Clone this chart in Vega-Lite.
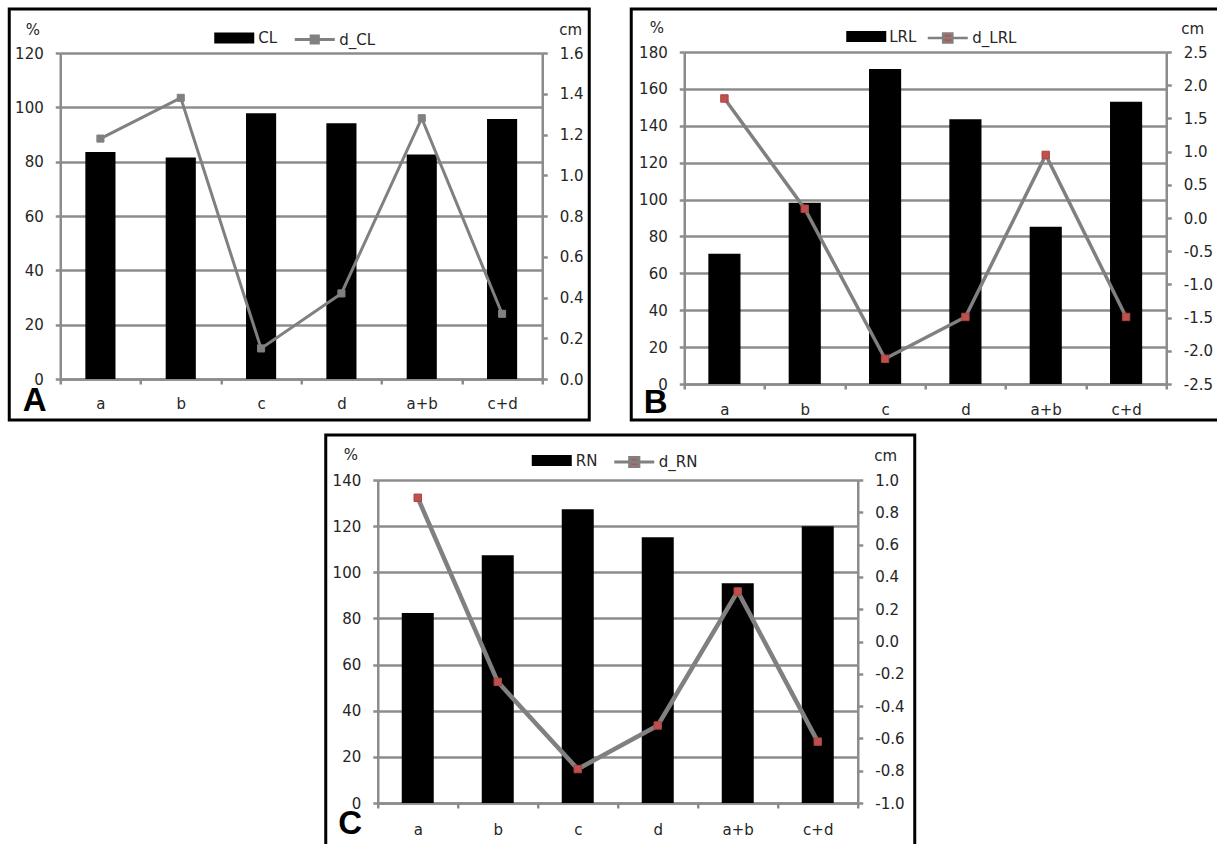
{
  "$schema": "https://vega.github.io/schema/vega-lite/v6.json",
  "padding": {"left": 7, "top": 7, "right": 0, "bottom": 0},
  "autosize": {"type": "pad"},
  "datasets": {
    "A": [
      {"group": "a", "pct": 83.6, "cm": 1.18},
      {"group": "b", "pct": 81.5, "cm": 1.38},
      {"group": "c", "pct": 97.8, "cm": 0.15},
      {"group": "d", "pct": 94.1, "cm": 0.42},
      {"group": "a+b", "pct": 82.6, "cm": 1.28},
      {"group": "c+d", "pct": 95.7, "cm": 0.32}
    ],
    "B": [
      {"group": "a", "pct": 70.6, "cm": 1.8},
      {"group": "b", "pct": 98.3, "cm": 0.14},
      {"group": "c", "pct": 170.8, "cm": -2.12},
      {"group": "d", "pct": 143.5, "cm": -1.49},
      {"group": "a+b", "pct": 85.3, "cm": 0.95},
      {"group": "c+d", "pct": 153, "cm": -1.49}
    ],
    "C": [
      {"group": "a", "pct": 82.3, "cm": 0.89},
      {"group": "b", "pct": 107.4, "cm": -0.25},
      {"group": "c", "pct": 127.3, "cm": -0.79},
      {"group": "d", "pct": 115.2, "cm": -0.52},
      {"group": "a+b", "pct": 95.2, "cm": 0.31},
      {"group": "c+d", "pct": 119.9, "cm": -0.62}
    ]
  },
  "spacing": 11,
  "center": true,
  "resolve": {
    "scale": {"fill": "independent", "stroke": "independent"},
    "legend": {"fill": "independent", "stroke": "independent"}
  },
  "vconcat": [
    {
      "spacing": 38,
      "resolve": {
        "scale": {"fill": "independent", "stroke": "independent"},
        "legend": {"fill": "independent", "stroke": "independent"}
      },
      "hconcat": [
        {
          "width": 580,
          "height": 411,
          "data": {"name": "A"},
          "encoding": {
            "x": {
              "field": "group", "type": "nominal", "sort": null,
              "scale": {"range": [51, 533], "paddingInner": 0, "paddingOuter": 0},
              "axis": {
                "orient": "bottom", "offset": -41, "tickBand": "extent", "tickSize": 5,
                "labelAngle": 0, "labelPadding": 12,
                "title": "A", "titleX": 13, "titleY": 31, "titleAlign": "left", "titleBaseline": "alphabetic",
                "titleFont": "Liberation Sans", "titleFontSize": 33, "titleFontWeight": "bold", "titleColor": "#000000"
              }
            }
          },
          "layer": [
            {
              "mark": {"type": "point", "opacity": 0},
              "encoding": {
                "y": {
                  "field": "pct", "type": "quantitative",
                  "scale": {"domain": [0, 120], "range": [370, 44]},
                  "axis": {"orient": "left", "offset": -51, "values": [0, 20, 40, 60, 80, 100, 120], "tickSize": -482, "domain": false, "labels": false, "title": null}
                }
              }
            },
            {
              "mark": {"type": "bar", "width": {"band": 0.375}},
              "encoding": {
                "y": {
                  "field": "pct", "type": "quantitative",
                  "scale": {"domain": [0, 120], "range": [370, 44]},
                  "axis": {
                    "orient": "left", "offset": -51, "values": [0, 20, 40, 60, 80, 100, 120], "tickSize": 5, "labelPadding": 12,
                    "title": "%", "titleAngle": 0, "titleX": -28, "titleY": 20, "titleAlign": "center", "titleBaseline": "middle"
                  }
                },
                "fill": {
                  "datum": "CL", "scale": {"range": ["#000000"]},
                  "legend": {"orient": "none", "legendX": 205, "legendY": 9, "title": null, "padding": 0, "symbolType": "M-1,-0.275H1V0.275H-1Z", "symbolSize": 1600, "symbolStrokeWidth": 0, "labelOffset": 4}
                }
              }
            },
            {
              "mark": {"type": "line", "strokeWidth": 3},
              "encoding": {
                "y": {
                  "field": "cm", "type": "quantitative",
                  "scale": {"domain": [0, 1.6], "range": [370, 44]},
                  "axis": {
                    "orient": "right", "offset": -47, "values": [0, 0.2, 0.4, 0.6, 0.8, 1, 1.2, 1.4, 1.6], "format": ".1f", "tickSize": 5, "labelPadding": 12,
                    "title": "cm", "titleAngle": 0, "titleX": 28, "titleY": 20, "titleAlign": "center", "titleBaseline": "middle"
                  }
                },
                "stroke": {
                  "datum": "d_CL", "scale": {"range": ["#808080"]},
                  "legend": {"orient": "none", "legendX": 284, "legendY": 9, "title": null, "padding": 0, "symbolType": "M-1,0H1M-0.18,-0.18H0.18V0.18H-0.18Z", "symbolSize": 1600, "symbolFillColor": "#808080", "symbolStrokeWidth": 3, "labelOffset": 3}
                }
              }
            },
            {
              "mark": {"type": "point", "shape": "square", "size": 50, "filled": true, "fill": "#808080", "stroke": "#808080", "strokeWidth": 1, "opacity": 1},
              "encoding": {
                "y": {"field": "cm", "type": "quantitative", "scale": {"domain": [0, 1.6], "range": [370, 44]}, "axis": null}
              }
            }
          ],
          "resolve": {"scale": {"y": "independent"}}
        },
        {
          "width": 600,
          "height": 411,
          "data": {"name": "B"},
          "encoding": {
            "x": {
              "field": "group", "type": "nominal", "sort": null,
              "scale": {"range": [53, 535], "paddingInner": 0, "paddingOuter": 0},
              "axis": {
                "orient": "bottom", "offset": -36, "tickBand": "extent", "tickSize": 5,
                "labelAngle": 0, "labelPadding": 13,
                "title": "B", "titleX": 12, "titleY": 28, "titleAlign": "left", "titleBaseline": "alphabetic",
                "titleFont": "Liberation Sans", "titleFontSize": 33, "titleFontWeight": "bold", "titleColor": "#000000"
              }
            }
          },
          "layer": [
            {
              "mark": {"type": "point", "opacity": 0},
              "encoding": {
                "y": {
                  "field": "pct", "type": "quantitative",
                  "scale": {"domain": [0, 180], "range": [375, 43]},
                  "axis": {"orient": "left", "offset": -53, "values": [0, 20, 40, 60, 80, 100, 120, 140, 160, 180], "tickSize": -482, "domain": false, "labels": false, "title": null}
                }
              }
            },
            {
              "mark": {"type": "bar", "width": {"band": 0.4}},
              "encoding": {
                "y": {
                  "field": "pct", "type": "quantitative",
                  "scale": {"domain": [0, 180], "range": [375, 43]},
                  "axis": {
                    "orient": "left", "offset": -53, "values": [0, 20, 40, 60, 80, 100, 120, 140, 160, 180], "tickSize": 5, "labelPadding": 12,
                    "title": "%", "titleAngle": 0, "titleX": -28, "titleY": 18, "titleAlign": "center", "titleBaseline": "middle"
                  }
                },
                "fill": {
                  "datum": "LRL", "scale": {"range": ["#000000"]},
                  "legend": {"orient": "none", "legendX": 215, "legendY": 7.5, "title": null, "padding": 0, "symbolType": "M-1,-0.275H1V0.275H-1Z", "symbolSize": 1600, "symbolStrokeWidth": 0, "labelOffset": 3}
                }
              }
            },
            {
              "mark": {"type": "line", "strokeWidth": 3.5},
              "encoding": {
                "y": {
                  "field": "cm", "type": "quantitative",
                  "scale": {"domain": [-2.5, 2.5], "range": [375, 43]},
                  "axis": {
                    "orient": "right", "offset": -65, "values": [-2.5, -2, -1.5, -1, -0.5, 0, 0.5, 1, 1.5, 2, 2.5], "format": ".1f", "tickSize": 5, "labelPadding": 12,
                    "title": "cm", "titleAngle": 0, "titleX": 26, "titleY": 19, "titleAlign": "center", "titleBaseline": "middle"
                  }
                },
                "stroke": {
                  "datum": "d_LRL", "scale": {"range": ["#808080"]},
                  "legend": {"orient": "none", "legendX": 295, "legendY": 7.5, "title": null, "padding": 0, "symbolType": "M-1,0H1M-0.23,-0.23H0.23V0.23H-0.23Z", "symbolSize": 1600, "symbolFillColor": "#c0504d", "symbolStrokeWidth": 2.5, "labelOffset": 3}
                }
              }
            },
            {
              "mark": {"type": "point", "shape": "square", "size": 55, "filled": true, "fill": "#c0504d", "stroke": "#a84440", "strokeWidth": 1, "opacity": 1},
              "encoding": {
                "y": {"field": "cm", "type": "quantitative", "scale": {"domain": [-2.5, 2.5], "range": [375, 43]}, "axis": null}
              }
            }
          ],
          "resolve": {"scale": {"y": "independent"}}
        }
      ]
    },
    {
      "width": 589,
      "height": 413,
      "data": {"name": "C"},
      "encoding": {
        "x": {
          "field": "group", "type": "nominal", "sort": null,
          "scale": {"range": [52, 532], "paddingInner": 0, "paddingOuter": 0},
          "axis": {
            "orient": "bottom", "offset": -45, "tickBand": "extent", "tickSize": 5,
            "labelAngle": 0, "labelPadding": 14,
            "title": "C", "titleX": 12, "titleY": 30, "titleAlign": "left", "titleBaseline": "alphabetic",
            "titleFont": "Liberation Sans", "titleFontSize": 33, "titleFontWeight": "bold", "titleColor": "#000000"
          }
        }
      },
      "layer": [
        {
          "mark": {"type": "point", "opacity": 0},
          "encoding": {
            "y": {
              "field": "pct", "type": "quantitative",
              "scale": {"domain": [0, 140], "range": [368, 45]},
              "axis": {"orient": "left", "offset": -52, "values": [0, 20, 40, 60, 80, 100, 120, 140], "tickSize": -480, "domain": false, "labels": false, "title": null}
            }
          }
        },
        {
          "mark": {"type": "bar", "width": {"band": 0.4}},
          "encoding": {
            "y": {
              "field": "pct", "type": "quantitative",
              "scale": {"domain": [0, 140], "range": [368, 45]},
              "axis": {
                "orient": "left", "offset": -52, "values": [0, 20, 40, 60, 80, 100, 120, 140], "tickSize": 5, "labelPadding": 12,
                "title": "%", "titleAngle": 0, "titleX": -27.5, "titleY": 19.5, "titleAlign": "center", "titleBaseline": "middle"
              }
            },
            "fill": {
              "datum": "RN", "scale": {"range": ["#000000"]},
              "legend": {"orient": "none", "legendX": 206, "legendY": 5.5, "title": null, "padding": 0, "symbolType": "M-1,-0.275H1V0.275H-1Z", "symbolSize": 1600, "symbolStrokeWidth": 0, "labelOffset": 4}
            }
          }
        },
        {
          "mark": {"type": "line", "strokeWidth": 4.5},
          "encoding": {
            "y": {
              "field": "cm", "type": "quantitative",
              "scale": {"domain": [-1, 1], "range": [368, 45]},
              "axis": {
                "orient": "right", "offset": -57, "values": [-1, -0.8, -0.6, -0.4, -0.2, 0, 0.2, 0.4, 0.6, 0.8, 1], "format": ".1f", "tickSize": 5, "labelPadding": 12,
                "title": "cm", "titleAngle": 0, "titleX": 27.5, "titleY": 20, "titleAlign": "center", "titleBaseline": "middle"
              }
            },
            "stroke": {
              "datum": "d_RN", "scale": {"range": ["#808080"]},
              "legend": {"orient": "none", "legendX": 287, "legendY": 5.5, "title": null, "padding": 0, "symbolType": "M-1,0H1M-0.23,-0.23H0.23V0.23H-0.23Z", "symbolSize": 1600, "symbolFillColor": "#c0504d", "symbolStrokeWidth": 3, "labelOffset": 3}
            }
          }
        },
        {
          "mark": {"type": "point", "shape": "square", "size": 55, "filled": true, "fill": "#c0504d", "stroke": "#a84440", "strokeWidth": 1, "opacity": 1},
          "encoding": {
            "y": {"field": "cm", "type": "quantitative", "scale": {"domain": [-1, 1], "range": [368, 45]}, "axis": null}
          }
        }
      ],
      "resolve": {"scale": {"y": "independent"}}
    }
  ],
  "config": {
    "view": {"stroke": "#000000", "strokeWidth": 3},
    "locale": {"number": {"decimal": ".", "thousands": ",", "grouping": [3], "currency": ["$", ""], "minus": "-"}},
    "axis": {
      "grid": false,
      "labelFont": "DejaVu Sans", "labelFontSize": 15, "labelColor": "#262626", "labelFlush": false, "labelOverlap": false,
      "titleFont": "DejaVu Sans", "titleFontSize": 15, "titleFontWeight": "normal", "titleColor": "#262626",
      "domainColor": "#8c8c8c", "domainWidth": 2.5, "tickColor": "#8c8c8c", "tickWidth": 2.5
    },
    "legend": {"labelFont": "DejaVu Sans", "labelFontSize": 15, "labelColor": "#262626"}
  }
}
